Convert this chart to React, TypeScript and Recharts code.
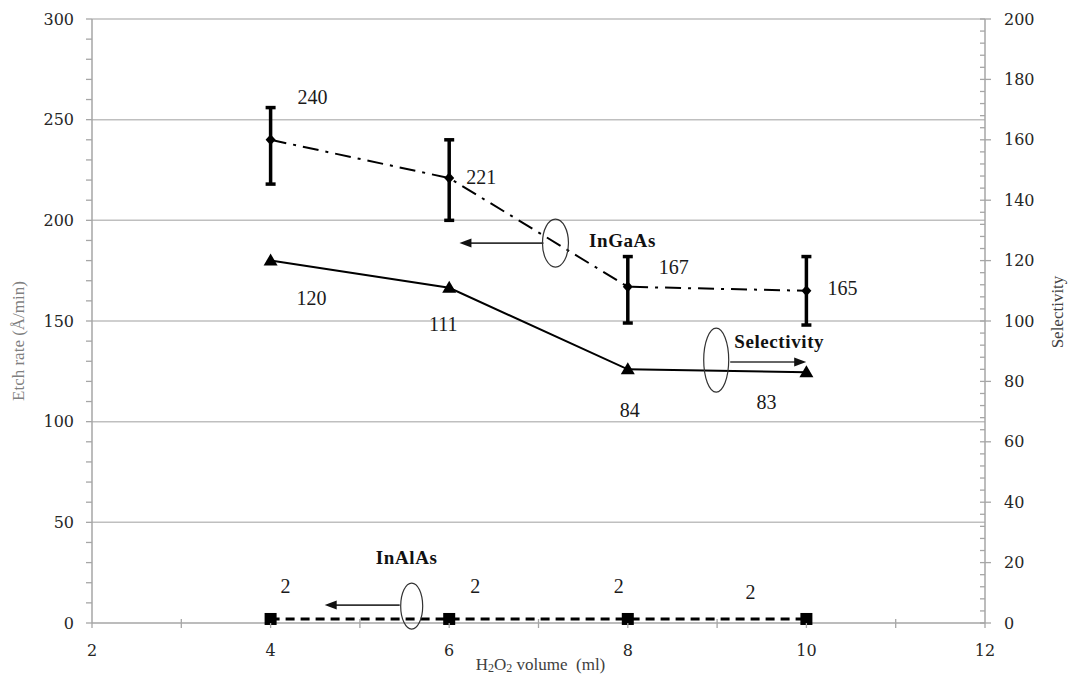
import React from 'react'
import { ComposedChart, Line, XAxis, YAxis, ErrorBar, ReferenceLine, ReferenceDot, LabelList, Label } from 'recharts'

// H2O2 volume (ml)
const volumes = [4, 6, 8, 10]
// etch rates, Å/min
const ingaasRate = [240, 221, 167, 165]
const ingaasErrLow = [22, 21, 18, 17]
const ingaasErrHigh = [16, 19, 15, 17]
const inalasRate = [2, 2, 2, 2]
// InGaAs / InAlAs selectivity
const selectivity = [120, 111, 84, 83]

const xTicks = [2, 3, 4, 5, 6, 7, 8, 9, 10, 11, 12]
const xLabelled = [2, 4, 6, 8, 10, 12]
const leftMajor = [0, 50, 100, 150, 200, 250, 300]
const rightMajor = [0, 20, 40, 60, 80, 100, 120, 140, 160, 180, 200]
const leftTicks = Array.from({ length: 31 }, (_, i) => i * 10)
const rightTicks = Array.from({ length: 51 }, (_, i) => i * 4)
const gridLines = [50, 100, 150, 200, 250, 300]

const data = volumes.map((x, i) => ({
  x,
  ingaas: ingaasRate[i],
  ingaasErr: [ingaasErrLow[i], ingaasErrHigh[i]],
  sel: selectivity[i],
  inalas: inalasRate[i],
}))

// where each value label sits relative to its point (px)
const ingaasLabelPos = [[42, -43], [32, -1], [46, -20], [36, -3]]
const selLabelPos = [[41, 37], [-6, 36], [2, 41], [-40, 30]]
const inalasLabelPos = [[15, -33], [26, -33], [-9, -33], [-56, -27]]

const AXIS = '#a6a6a6'
const GRID = '#bfbfbf'
const SERIF = 'Liberation Serif'
const tickStyle = { fontFamily: 'DejaVu Serif', fontSize: 16, fill: '#262626' }
const valueStyle = { fontFamily: SERIF, fontSize: 20, fill: '#1a1a1a' }
const noteStyle = { fontFamily: SERIF, fontSize: 19, fontWeight: 700, fill: '#111', letterSpacing: 0.6 }

const LeftTick = ({ x, y, payload }: any) => {
  const major = leftMajor.includes(payload.value)
  return (
    <g>
      <line x1={x - 6} x2={x} y1={y} y2={y} stroke={AXIS} strokeWidth={1.3} />
      {major && (
        <text x={x - 18} y={y} textAnchor="end" dominantBaseline="central" style={tickStyle}>
          {payload.value}
        </text>
      )}
    </g>
  )
}

const RightTick = ({ x, y, payload }: any) => {
  const major = rightMajor.includes(payload.value)
  return (
    <g>
      <line x1={x - 5} x2={major ? x + 6 : x} y1={y} y2={y} stroke={AXIS} strokeWidth={1.3} />
      {major && (
        <text x={x + 19} y={y} textAnchor="start" dominantBaseline="central" style={tickStyle}>
          {payload.value}
        </text>
      )}
    </g>
  )
}

const BottomTick = ({ x, y, payload }: any) => {
  const major = xLabelled.includes(payload.value)
  return (
    <g>
      <line x1={x} x2={x} y1={major ? y : y - 4} y2={y + 5} stroke={AXIS} strokeWidth={1.3} />
      {major && (
        <text x={x} y={y + 27} textAnchor="middle" dominantBaseline="central" style={tickStyle}>
          {payload.value}
        </text>
      )}
    </g>
  )
}

const valueLabel = (pos: number[][]) => (props: any) => {
  const { x, y, value, index } = props
  const [dx, dy] = pos[index]
  return (
    <text x={x + dx} y={y + dy} textAnchor="middle" dominantBaseline="central" style={valueStyle}>
      {value}
    </text>
  )
}

const Diamond = ({ cx, cy, index }: any) => (
  <polygon key={index} points={`${cx},${cy - 5.5} ${cx + 5},${cy} ${cx},${cy + 5.5} ${cx - 5},${cy}`} fill="#000" />
)
const Triangle = ({ cx, cy, index }: any) => (
  <polygon key={index} points={`${cx},${cy - 7} ${cx + 7},${cy + 5} ${cx - 7},${cy + 5}`} fill="#000" />
)
const Square = ({ cx, cy, index }: any) => (
  <rect key={index} x={cx - 6} y={cy - 6} width={12} height={12} fill="#000" />
)

// ellipse + arrow + name, drawn around a reference point
const note = (text: string, rx: number, ry: number, arrowFrom: number, arrowTo: number, arrowDy: number, tx: number, ty: number) =>
  ({ cx, cy }: any) => {
    const dir = arrowTo > arrowFrom ? 1 : -1
    const tip = cx + arrowTo
    const ay = cy + arrowDy
    return (
      <g>
        <ellipse cx={cx} cy={cy} rx={rx} ry={ry} fill="none" stroke="#333" strokeWidth={1.2} />
        <line x1={cx + arrowFrom} x2={tip - dir * 8} y1={ay} y2={ay} stroke="#333" strokeWidth={1.6} />
        <polygon points={`${tip},${ay} ${tip - dir * 12},${ay - 4.5} ${tip - dir * 12},${ay + 4.5}`} fill="#111" />
        <text x={cx + tx} y={cy + ty} textAnchor="middle" dominantBaseline="central" style={noteStyle}>
          {text}
        </text>
      </g>
    )
  }

const leftTitle = ({ viewBox }: any) => {
  const x = viewBox.x + 18
  const y = viewBox.y + viewBox.height / 2 + 20
  return (
    <text
      x={x}
      y={y}
      transform={`rotate(-90 ${x} ${y})`}
      textAnchor="middle"
      dominantBaseline="central"
      style={{ fontFamily: SERIF, fontSize: 17, fill: '#7f7f7f' }}
    >
      Etch rate (Å/min)
    </text>
  )
}

const rightTitle = ({ viewBox }: any) => {
  const x = viewBox.x + 72
  const y = viewBox.y + viewBox.height / 2 - 9
  return (
    <text
      x={x}
      y={y}
      transform={`rotate(-90 ${x} ${y})`}
      textAnchor="middle"
      dominantBaseline="central"
      style={{ fontFamily: SERIF, fontSize: 17, fill: '#404040' }}
    >
      Selectivity
    </text>
  )
}

const bottomTitle = ({ viewBox }: any) => (
  <text
    x={viewBox.x + viewBox.width / 2 + 2}
    y={viewBox.y + 41}
    textAnchor="middle"
    dominantBaseline="central"
    style={{ fontFamily: SERIF, fontSize: 17, fill: '#404040', whiteSpace: 'pre' }}
  >
    H<tspan fontSize={12} dy={4}>2</tspan>
    <tspan dy={-4}>O</tspan>
    <tspan fontSize={12} dy={4}>2</tspan>
    <tspan dy={-4}> volume  (ml)</tspan>
  </text>
)

export default function App() {
  return (
    <div style={{ position: 'absolute', left: 0, top: 0, background: '#fff' }}>
      <ComposedChart width={1072} height={681} data={data} margin={{ top: 19, right: 0, bottom: 0, left: 0 }}>
        <XAxis
          type="number"
          dataKey="x"
          domain={[2, 12]}
          ticks={xTicks}
          interval={0}
          height={58}
          tickSize={0}
          tickMargin={0}
          tickLine={false}
          tick={<BottomTick />}
          axisLine={{ stroke: AXIS, strokeWidth: 1.5 }}
        >
          <Label content={bottomTitle} />
        </XAxis>
        <YAxis
          yAxisId="left"
          domain={[0, 300]}
          ticks={leftTicks}
          interval={0}
          width={92}
          tickSize={0}
          tickMargin={0}
          tickLine={false}
          tick={<LeftTick />}
          axisLine={{ stroke: AXIS, strokeWidth: 1.5 }}
        >
          <Label content={leftTitle} />
        </YAxis>
        <YAxis
          yAxisId="right"
          orientation="right"
          domain={[0, 200]}
          ticks={rightTicks}
          interval={0}
          width={87}
          tickSize={0}
          tickMargin={0}
          tickLine={false}
          tick={<RightTick />}
          axisLine={{ stroke: AXIS, strokeWidth: 1.5 }}
        >
          <Label content={rightTitle} />
        </YAxis>

        {gridLines.map((v) => (
          <ReferenceLine key={v} yAxisId="left" y={v} stroke={GRID} strokeWidth={1.5} />
        ))}

        <Line
          yAxisId="right"
          dataKey="sel"
          type="linear"
          stroke="#000"
          strokeWidth={2}
          dot={Triangle}
          activeDot={false}
          isAnimationActive={false}
        >
          <LabelList dataKey="sel" content={valueLabel(selLabelPos)} />
        </Line>
        <Line
          yAxisId="left"
          dataKey="inalas"
          type="linear"
          stroke="#000"
          strokeWidth={3}
          strokeDasharray="9 6"
          dot={Square}
          activeDot={false}
          isAnimationActive={false}
        >
          <LabelList dataKey="inalas" content={valueLabel(inalasLabelPos)} />
        </Line>
        <Line
          yAxisId="left"
          dataKey="ingaas"
          type="linear"
          stroke="#000"
          strokeWidth={2}
          strokeDasharray="16 7 3 7"
          dot={Diamond}
          activeDot={false}
          isAnimationActive={false}
        >
          <ErrorBar dataKey="ingaasErr" direction="y" width={5} strokeWidth={3.5} stroke="#000" isAnimationActive={false} />
          <LabelList dataKey="ingaas" content={valueLabel(ingaasLabelPos)} />
        </Line>

        <ReferenceDot yAxisId="left" x={7.19} y={188.7} shape={note('InGaAs', 13, 24, -12, -96, 0, 67, -3)} />
        <ReferenceDot yAxisId="left" x={8.99} y={130.6} shape={note('Selectivity', 12.5, 32, 14, 90, 2, 63, -19)} />
        <ReferenceDot yAxisId="left" x={5.58} y={8.4} shape={note('InAlAs', 11, 23, -12, -87, -1, -5, -49)} />
      </ComposedChart>
    </div>
  )
}
